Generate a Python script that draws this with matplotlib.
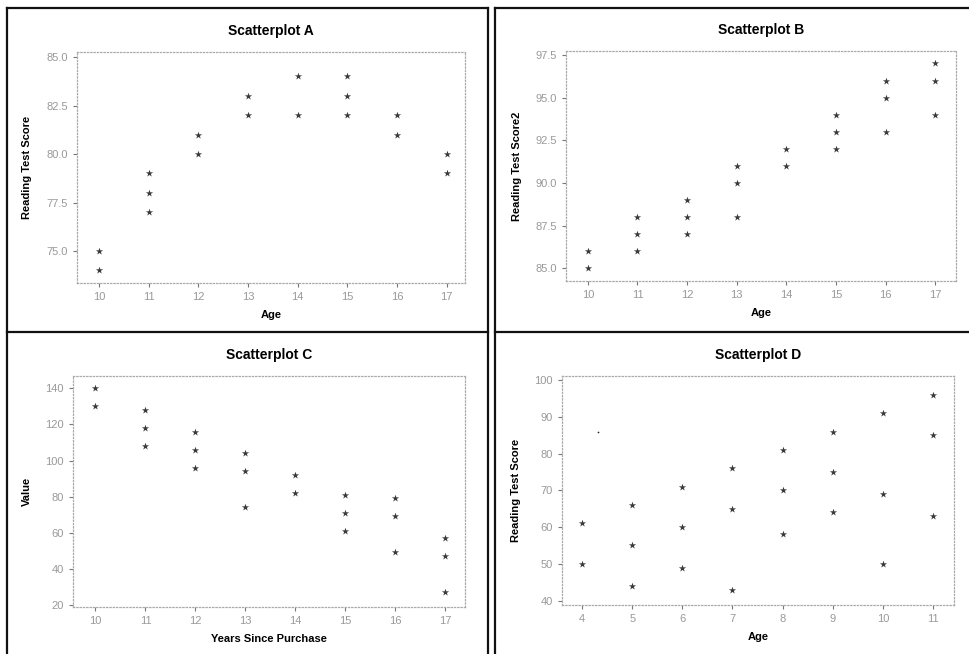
import matplotlib
matplotlib.use("Agg")
import matplotlib.pyplot as plt
from matplotlib.lines import Line2D

plt.rcParams['font.family'] = ['Liberation Sans', 'DejaVu Sans']

# Scatterplot A
a_x = [10, 10, 11, 11, 11, 12, 12, 13, 13, 14, 14, 15, 15, 15, 16, 16, 17, 17]
a_y = [75, 74, 79, 78, 77, 81, 80, 83, 82, 84, 82, 84, 83, 82, 82, 81, 80, 79]

# Scatterplot B
b_x = [10, 10, 11, 11, 11, 12, 12, 12, 13, 13, 13, 14, 14, 15, 15, 15, 16, 16, 16, 17, 17, 17]
b_y = [86, 85, 88, 87, 86, 89, 88, 87, 91, 90, 88, 92, 91, 94, 93, 92, 96, 95, 93, 97, 96, 94]

# Scatterplot C
c_x = [10, 10, 11, 11, 11, 12, 12, 12, 13, 13, 13, 14, 14, 15, 15, 15, 16, 16, 16, 17, 17, 17]
c_y = [140, 130, 128, 118, 108, 116, 106, 96, 104, 94, 74, 92, 82, 81, 71, 61, 79, 69, 49, 57, 47, 27]

# Scatterplot D
d_x = [4, 4, 5, 5, 5, 6, 6, 6, 7, 7, 7, 8, 8, 8, 9, 9, 9, 10, 10, 10, 11, 11, 11]
d_y = [61, 50, 66, 55, 44, 71, 60, 49, 76, 65, 43, 81, 70, 58, 86, 75, 64, 91, 69, 50, 96, 85, 63]
d_stray_x = [4.31]
d_stray_y = [86]

W, H = 970, 654


def box(l, r, t, b):
    return [l / W, 1 - b / H, (r - l) / W, (b - t) / H]


def panel(fig, rect, x, y, title, xlabel, ylabel, xlim, ylim, yticks, yfmt):
    ax = fig.add_axes(rect)
    ax.scatter(x, y, marker='*', s=30, color='#3a3a3a', linewidths=0)
    ax.set_xlim(xlim)
    ax.set_ylim(ylim)
    ax.set_xticks(range(int(xlim[0]) + 1, int(xlim[1]) + 1))
    ax.set_yticks(yticks)
    ax.set_yticklabels([yfmt.format(v) for v in yticks])
    ax.set_title(title, fontsize=10, fontweight='bold', pad=12)
    ax.set_xlabel(xlabel, fontsize=8, fontweight='bold', labelpad=6)
    ax.set_ylabel(ylabel, fontsize=8, fontweight='bold', labelpad=10)
    ax.tick_params(labelsize=8, labelcolor='#999999', color='#777777', length=3, width=0.8)
    for s in ax.spines.values():
        s.set_color('#aaaaaa')
        s.set_linestyle(':')
        s.set_linewidth(0.9)
    return ax


fig = plt.figure(figsize=(9.7, 6.54), dpi=100)

panel(fig, box(77, 465, 52, 283), a_x, a_y, 'Scatterplot A', 'Age', 'Reading Test Score',
      (9.56, 17.37), (73.35, 85.26), [75, 77.5, 80, 82.5, 85], '{:.1f}')
panel(fig, box(566, 956, 51, 281), b_x, b_y, 'Scatterplot B', 'Age', 'Reading Test Score2',
      (9.56, 17.42), (84.26, 97.73), [85, 87.5, 90, 92.5, 95, 97.5], '{:.1f}')
panel(fig, box(73, 465, 376, 607), c_x, c_y, 'Scatterplot C', 'Years Since Purchase', 'Value',
      (9.55, 17.4), (18.7, 146.9), [20, 40, 60, 80, 100, 120, 140], '{:d}')
axd = panel(fig, box(562, 954, 376, 605), d_x, d_y, 'Scatterplot D', 'Age', 'Reading Test Score',
            (3.6, 11.42), (38.8, 101.1), [40, 50, 60, 70, 80, 90, 100], '{:d}')
axd.scatter(d_stray_x, d_stray_y, marker='.', s=6, color='#222222', linewidths=0)

# panel frames
for xs, ys in [((7, 7), (8, 654)), ((488, 488), (8, 654)), ((495, 495), (8, 654)),
               ((7, 488), (8, 8)), ((495, 970), (8, 8)),
               ((7, 488), (332, 332)), ((495, 970), (332, 332))]:
    fig.add_artist(Line2D([x / W for x in xs], [1 - y / H for y in ys],
                          color='#111111', linewidth=1.6))

fig.savefig('out.png', dpi=100, facecolor='white')
